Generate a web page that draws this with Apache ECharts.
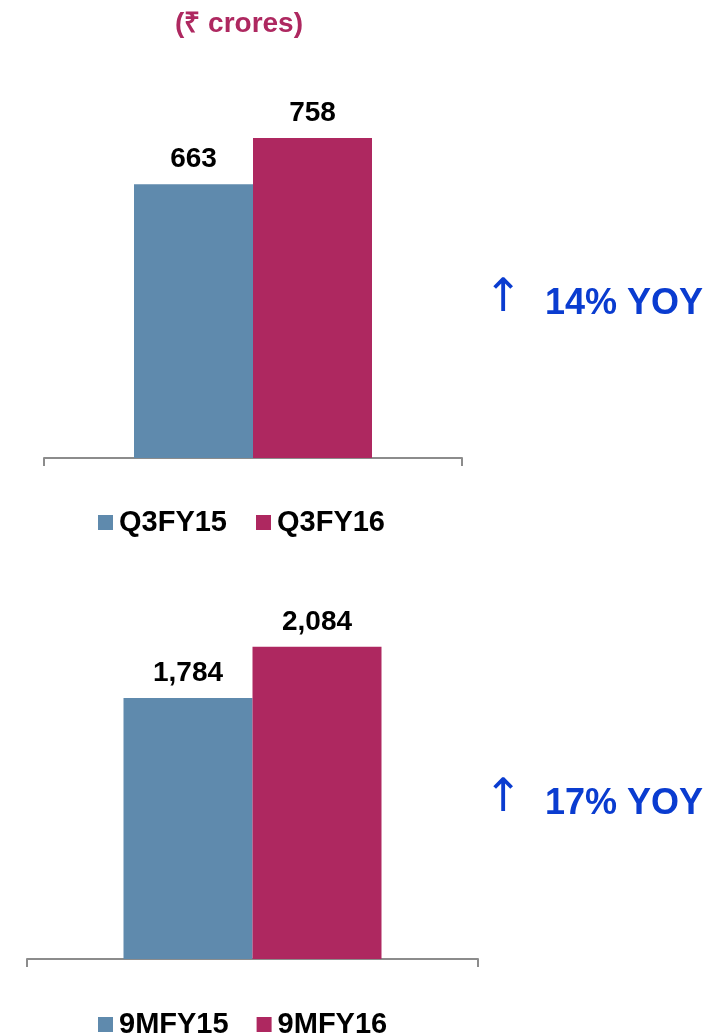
<!DOCTYPE html>
<html>
<head>
<meta charset="utf-8">
<script src="https://cdn.jsdelivr.net/npm/echarts@6/dist/echarts.min.js"></script>
<style>
* { margin: 0; padding: 0; }
html, body { background: #fff; }
#main { width: 718px; height: 1035px; }
</style>
</head>
<body>
<div id="main"></div>
<script>
// top chart: quarter
var quarterNames = ['Q3FY15', 'Q3FY16'];
var quarterValues = [663, 758];
var quarterGrowth = '14% YOY';

// bottom chart: nine months
var nineMonthNames = ['9MFY15', '9MFY16'];
var nineMonthValues = [1784, 2084];
var nineMonthGrowth = '17% YOY';

var unitTitle = '(₹ crores)';

var colors = ['#5f8aad', '#ae2860'];
var font = '"Liberation Sans", Arial, sans-serif';

var chartDom = document.getElementById('main');
var myChart = echarts.init(chartDom);

function labelFmt(p) {
  return p.value.toLocaleString('en-US');
}

function makeSeries(name, value, idx, color, barW) {
  return {
    name: name,
    type: 'bar',
    xAxisIndex: idx,
    yAxisIndex: idx,
    data: [value],
    barWidth: barW,
    barGap: '0%',
    itemStyle: { color: color },
    label: {
      show: true,
      position: 'top',
      distance: 11,
      formatter: labelFmt,
      fontFamily: font,
      fontSize: 28,
      fontWeight: 'bold',
      color: '#000'
    }
  };
}

var xAxisBase = {
  type: 'category',
  data: [''],
  axisLine: { lineStyle: { color: '#8c8c8c', width: 2 } },
  axisTick: { show: true, length: 8, lineStyle: { color: '#8c8c8c', width: 2 } },
  axisLabel: { show: false }
};

var legendText = { fontFamily: font, fontSize: 29, fontWeight: 'bold', color: '#000', padding: [0, 0, 0, 1] };

var option = {
  animation: false,
  color: colors,
  title: {
    text: unitTitle,
    left: 234,
    textAlign: 'center',
    top: 5,
    textStyle: { fontFamily: font, fontSize: 28, fontWeight: 'bold', color: '#ae2860' }
  },
  grid: [
    { left: 44, width: 418, top: 69, height: 389 },
    { left: 27, width: 451, top: 576, height: 383 }
  ],
  xAxis: [
    Object.assign({ gridIndex: 0 }, xAxisBase),
    Object.assign({ gridIndex: 1 }, xAxisBase)
  ],
  yAxis: [
    { type: 'value', gridIndex: 0, min: 100, max: 900, show: false },
    { type: 'value', gridIndex: 1, min: 250, max: 2500, show: false }
  ],
  legend: [
    {
      data: quarterNames,
      left: 98, top: 508, padding: 0,
      icon: 'rect', itemWidth: 15, itemHeight: 15, itemGap: 29,
      textStyle: legendText
    },
    {
      data: nineMonthNames,
      left: 98, top: 1010, padding: 0,
      icon: 'rect', itemWidth: 15, itemHeight: 15, itemGap: 28,
      textStyle: legendText
    }
  ],
  graphic: [
    { type: 'text', left: 484, top: 276, style: { text: '↑', font: '46px "DejaVu Sans"', fill: '#0a3cd0' } },
    { type: 'text', left: 545, top: 286, style: { text: quarterGrowth, font: 'bold 36px "Liberation Sans", Arial', fill: '#0a3cd0' } },
    { type: 'text', left: 484, top: 776, style: { text: '↑', font: '46px "DejaVu Sans"', fill: '#0a3cd0' } },
    { type: 'text', left: 545, top: 786, style: { text: nineMonthGrowth, font: 'bold 36px "Liberation Sans", Arial', fill: '#0a3cd0' } }
  ],
  series: [
    makeSeries(quarterNames[0], quarterValues[0], 0, colors[0], 119),
    makeSeries(quarterNames[1], quarterValues[1], 0, colors[1], 119),
    makeSeries(nineMonthNames[0], nineMonthValues[0], 1, colors[0], 129),
    makeSeries(nineMonthNames[1], nineMonthValues[1], 1, colors[1], 129)
  ]
};

myChart.setOption(option);
</script>
</body>
</html>
